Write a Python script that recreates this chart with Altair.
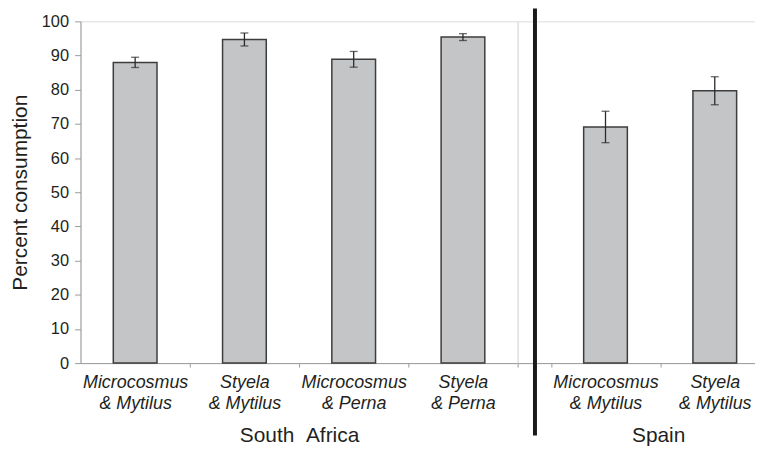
import altair as alt
import pandas as pd

# ---- data ----
sa_treatments = ["Microcosmus & Mytilus", "Styela & Mytilus",
                 "Microcosmus & Perna", "Styela & Perna"]
sa_means = [88.0, 94.7, 88.9, 95.4]
sa_errors = [1.5, 1.9, 2.3, 1.0]

spain_treatments = ["Microcosmus & Mytilus", "Styela & Mytilus"]
spain_means = [69.1, 79.7]
spain_errors = [4.6, 4.1]

y_ticks = list(range(0, 101, 10))

# ---- styles ----
FONT = "Liberation Sans"
BAR_FILL = "#c4c5c7"
BAR_STROKE = "#3d3d3d"
ERR_COLOR = "#2b2b2b"
AXIS_GRAY = "#9b9b9b"
TEXT = "#231f20"
label_expr = "split(replace(datum.label, ' & ', '|& '), '|')"


def x_axis(title, band_pos, tick_off, title_x=None):
    kw = dict(
        title=title, labelAngle=0, labelExpr=label_expr,
        bandPosition=band_pos, tickOffset=tick_off, labelOffset=-tick_off,
        tickSize=4, tickColor=AXIS_GRAY, domainColor=AXIS_GRAY,
        labelFont=FONT, labelFontStyle="italic", labelFontSize=18,
        labelColor=TEXT, labelLineHeight=21, labelPadding=7,
        titleFont=FONT, titleFontSize=21, titleFontWeight="normal",
        titleColor=TEXT, titlePadding=12, grid=False,
    )
    if title_x is not None:
        kw["titleX"] = title_x
    return alt.Axis(**kw)


def panel(treatments, means, errors, x_scale, axis, y_axis):
    df = pd.DataFrame({"treatment": treatments, "mean": means, "err": errors})
    base = alt.Chart(df).transform_calculate(
        lo="datum.mean - datum.err", hi="datum.mean + datum.err")
    ysc = alt.Scale(domain=[0, 100])
    xs = alt.X("treatment:N", sort=treatments, scale=x_scale, axis=axis)
    y_main = alt.Y("mean:Q", scale=ysc, axis=y_axis)
    y_lo = alt.Y("lo:Q", scale=ysc, axis=y_axis)
    y_hi = alt.Y("hi:Q", scale=ysc, axis=y_axis)
    bars = base.mark_bar(fill=BAR_FILL, stroke=BAR_STROKE, strokeWidth=1.5).encode(
        x=xs, y=y_main)
    rule = base.mark_rule(color=ERR_COLOR, strokeWidth=1.3).encode(
        x=xs, y=y_lo, y2="hi:Q")
    cap_lo = base.mark_tick(color=ERR_COLOR, size=8, thickness=1.3).encode(
        x=xs, y=y_lo)
    cap_hi = base.mark_tick(color=ERR_COLOR, size=8, thickness=1.3).encode(
        x=xs, y=y_hi)
    return [bars, rule, cap_lo, cap_hi]


left_y_axis = alt.Axis(
    title="Percent consumption", values=y_ticks, grid=False,
    tickSize=6, tickColor=AXIS_GRAY, domainColor=AXIS_GRAY,
    labelFont=FONT, labelFontSize=16.5, labelColor=TEXT, labelPadding=6,
    titleFont=FONT, titleFontSize=21, titleFontWeight="normal",
    titleColor=TEXT, titlePadding=11,
)

right_y_axis = alt.Axis(
    title=None, domain=False, ticks=False, labels=False, grid=False,
)

left = alt.layer(*panel(
    sa_treatments, sa_means, sa_errors,
    alt.Scale(paddingInner=0.6, paddingOuter=0.3),
    x_axis("South\u00a0\u00a0Africa", 1, 33),
    left_y_axis,
)).properties(width=440, height=344)

divider = alt.Chart(pd.DataFrame({"d": [0]})).mark_rule(
    color="#1a1a1a", strokeWidth=4).encode(
    x=alt.value(17.5), y=alt.value(-13), y2=alt.value(417))

right = alt.layer(*panel(
    spain_treatments, spain_means, spain_errors,
    alt.Scale(paddingInner=0.6, paddingOuter=0.3909, align=0.7733),
    x_axis("Spain", 0, -33, title_x=141.5),
    right_y_axis,
), divider).properties(width=240, height=344)

chart = alt.hconcat(left, right, spacing=0, bounds="flush").properties(
    padding={"top": -4, "left": 0, "right": -2, "bottom": -1}
).configure_view(strokeWidth=0, stroke="transparent").configure_axis(
    grid=False
).configure(font=FONT)

chart.save("out.html", embed_options={"renderer": "svg", "actions": False})
